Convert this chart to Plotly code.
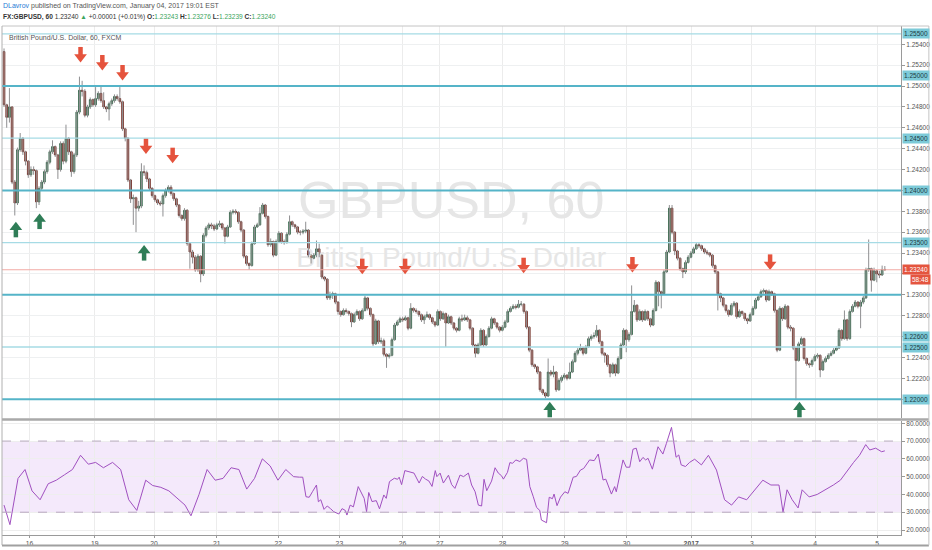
import plotly.graph_objects as go

# ---------------- data (prices in pips above 1.2000) ----------------
BASE = 1.2
PIP = 0.0001
first_open_pips = 533

close_pips = [482, 470, 480, 408, 388, 439, 450, 437, 428, 415, 420, 419, 389, 402, 408, 418, 427, 437, 442, 434,
              420, 445, 428, 450, 437, 418, 434, 475, 496, 495, 472, 480, 487, 482, 488, 493, 486, 480, 478, 483,
              486, 490, 488, 485, 459, 450, 410, 392, 393, 383, 385, 418, 417, 411, 402, 395, 391, 388, 387, 395,
              400, 403, 397, 392, 386, 376, 373, 381, 349, 341, 336, 324, 337, 320, 357, 364, 367, 366, 363, 367,
              368, 364, 356, 365, 379, 380, 379, 370, 362, 337, 330, 328, 349, 365, 367, 378, 386, 375, 348, 351,
              338, 351, 359, 351, 350, 358, 370, 367, 365, 360, 360, 361, 362, 338, 335, 338, 344, 338, 317, 315,
              297, 300, 301, 293, 284, 281, 285, 284, 282, 274, 281, 284, 277, 285, 297, 287, 281, 253, 275, 255,
              256, 243, 241, 242, 257, 271, 274, 277, 276, 278, 268, 287, 285, 284, 281, 276, 279, 281, 278, 274,
              271, 284, 277, 282, 273, 279, 273, 268, 266, 277, 276, 278, 276, 268, 252, 244, 252, 266, 252, 260,
              268, 277, 273, 269, 266, 269, 274, 284, 287, 289, 288, 291, 291, 284, 269, 247, 233, 231, 226, 209,
              206, 203, 226, 224, 226, 209, 218, 221, 223, 220, 226, 236, 244, 247, 249, 244, 250, 258, 260, 261,
              266, 255, 244, 242, 233, 225, 233, 225, 239, 252, 266, 257, 262, 284, 290, 276, 284, 276, 284, 277,
              271, 285, 312, 303, 301, 322, 341, 383, 360, 342, 335, 325, 322, 331, 336, 340, 344, 348, 347, 344,
              341, 340, 338, 328, 322, 301, 297, 290, 285, 281, 290, 292, 279, 284, 282, 277, 275, 281, 287, 295,
              298, 303, 304, 295, 303, 301, 285, 247, 287, 277, 289, 269, 268, 249, 237, 253, 258, 239, 234, 233,
              237, 241, 242, 228, 236, 239, 242, 244, 247, 249, 266, 258, 276, 258, 284, 289, 293, 289, 293, 297,
              324, 325, 314, 323, 320, 319, 324.3, 324.0]

high_pips = [536, 483, 498, 480, 410, 441, 455, 451, 438, 429, 423, 423, 420, 404, 410, 420, 429, 439, 448, 443,
             435, 447, 447, 463, 451, 438, 436, 477, 509, 505, 497, 482, 489, 488, 499, 495, 500, 494, 481, 485,
             488, 492, 492, 499, 486, 460, 451, 411, 396, 394, 390, 426, 424, 419, 412, 403, 396, 392, 390, 397,
             402, 405, 405, 398, 393, 387, 377, 383, 382, 350, 343, 338, 339, 338, 359, 366, 369, 369, 368, 369,
             371, 369, 365, 367, 381, 382, 382, 380, 371, 363, 338, 331, 351, 367, 369, 384, 388, 387, 376, 354,
             352, 353, 361, 360, 353, 360, 376, 371, 368, 366, 362, 363, 370, 363, 339, 340, 352, 349, 339, 318,
             316, 303, 303, 302, 294, 285, 287, 287, 285, 283, 283, 286, 285, 287, 299, 298, 288, 282, 277, 276,
             259, 258, 244, 244, 259, 273, 276, 279, 279, 280, 279, 292, 288, 287, 285, 282, 281, 284, 282, 279,
             275, 286, 285, 284, 283, 281, 280, 274, 269, 279, 281, 281, 280, 277, 269, 253, 254, 268, 267, 262,
             270, 279, 278, 274, 270, 271, 276, 286, 289, 291, 291, 295, 294, 292, 285, 270, 248, 234, 232, 227,
             210, 207, 239, 228, 232, 227, 220, 223, 225, 224, 235, 238, 246, 249, 253, 250, 252, 260, 262, 264,
             271, 267, 256, 245, 243, 234, 235, 234, 241, 254, 268, 267, 264, 309, 295, 291, 286, 285, 286, 285,
             278, 287, 314, 313, 304, 324, 343, 386, 386, 361, 343, 336, 326, 333, 338, 342, 346, 350, 350, 348,
             345, 343, 341, 339, 329, 323, 302, 298, 291, 286, 292, 294, 293, 286, 285, 283, 278, 283, 289, 297,
             300, 305, 306, 305, 305, 304, 302, 286, 289, 288, 291, 290, 271, 269, 250, 255, 260, 259, 240, 235,
             239, 243, 244, 243, 238, 241, 244, 246, 249, 251, 268, 267, 285, 277, 286, 291, 295, 294, 295, 299,
             326, 353, 326, 326, 324, 323, 328, 327.6]

low_pips = [480, 460, 465, 406, 376, 386, 437, 434, 424, 412, 413, 415, 383, 386, 400, 406, 416, 425, 435, 432,
            411, 418, 425, 426, 434, 413, 416, 432, 473, 490, 470, 470, 478, 480, 480, 486, 484, 478, 475, 467,
            481, 484, 486, 483, 457, 447, 408, 388, 367, 360, 380, 383, 414, 408, 400, 393, 389, 386, 385, 375,
            393, 398, 395, 390, 384, 374, 371, 371, 347, 325, 330, 322, 322, 312, 318, 355, 362, 363, 361, 362,
            365, 362, 349, 355, 364, 377, 377, 368, 360, 335, 328, 324, 327, 348, 364, 366, 377, 373, 346, 346,
            336, 337, 350, 349, 348, 349, 357, 365, 363, 358, 357, 358, 359, 336, 330, 334, 336, 336, 315, 313,
            295, 295, 296, 291, 281, 279, 280, 282, 280, 269, 273, 280, 275, 276, 284, 285, 279, 251, 252, 253,
            253, 241, 230, 239, 241, 256, 270, 273, 274, 275, 266, 267, 283, 282, 279, 274, 272, 278, 276, 272,
            269, 270, 275, 276, 250, 272, 271, 266, 264, 265, 274, 275, 274, 266, 250, 240, 243, 251, 250, 251,
            259, 267, 271, 267, 264, 265, 268, 273, 283, 286, 286, 287, 289, 282, 267, 245, 231, 229, 224, 207,
            204, 201, 202, 222, 221, 207, 208, 216, 219, 218, 219, 225, 235, 242, 246, 242, 243, 249, 256, 258,
            259, 253, 242, 235, 231, 221, 224, 222, 224, 238, 251, 245, 255, 261, 283, 274, 275, 274, 275, 275,
            269, 270, 284, 289, 287, 300, 321, 340, 358, 338, 333, 323, 316, 320, 330, 335, 339, 343, 345, 342,
            339, 338, 336, 326, 320, 285, 293, 288, 283, 279, 280, 288, 277, 278, 280, 275, 272, 274, 280, 286,
            294, 297, 301, 293, 294, 299, 283, 245, 246, 275, 276, 267, 265, 247, 199, 236, 252, 237, 232, 230,
            231, 236, 239, 221, 227, 235, 238, 241, 243, 246, 248, 256, 257, 256, 257, 283, 288, 287, 268, 291,
            296, 322, 303, 313, 312, 316, 318, 323.9]

# RSI (14, close): bar position -> value
rsi_bar = [0, 2.2, 5.2, 7.8, 10.4, 13.4, 16.4, 19.4, 22.4, 25.4, 28.4, 31.3, 34, 36.9, 40.3, 43.3, 46.3, 49.3, 52.6,
           55.2, 58.2, 61.2, 64.2, 67.2, 69.4, 72.4, 75.4, 78.4, 81.3, 84.3, 87.2, 90.1, 93, 95.9, 98.8, 101.7,
           104.6, 107.5, 109.7, 110.9, 112.1, 113.3, 114.5, 116, 116.7, 117.6, 118.8, 120, 121.2, 122.4, 124.3,
           125.5, 126.7, 127.3, 128.5, 129.7, 131.5, 132.8, 133.7, 134.6, 135.4, 136.6, 138.2, 139.4, 141, 141.9,
           143.1, 144.9, 146.1, 146.7, 147.6, 148.8, 151, 152.2, 154.1, 155.3, 156.5, 157.7, 158.9, 160.1, 160.7,
           161.9, 163.1, 165, 166.2, 167.4, 169.3, 170.6, 172.4, 173.6, 174.9, 176.1, 177.3, 178.2, 179.2, 181,
           182.3, 183.5, 184.7, 185.4, 186.9, 187.8, 188.8, 190, 191.5, 192.8, 194, 195.2, 196.5, 197.7, 198.9,
           199.5, 201.4, 202.4, 203.6, 204.2, 205.3, 206.6, 208.2, 209.4, 211.3, 212.5, 214, 215.2, 217.4, 219.1,
           220.6, 222.4, 223.4, 225.5, 226.7, 227.3, 229.8, 231, 232.3, 233.5, 234.7, 236, 237.2, 238.2, 239.1,
           240.7, 242.8, 244.6, 245.9, 247.8, 249.5, 250.5, 251.4, 253, 254.5, 256.4, 258.9, 261.5, 264.5, 267.5,
           270.1, 272.7, 275.7, 278.7, 281.7, 284.7, 287.7, 289.2, 290.7, 292.6, 294.8, 296.3, 298.9, 301.9,
           304.9, 307.9, 310.5, 313.1, 315.4, 317.6, 319.9, 321.4, 323.6, 325.8, 327]
rsi_val = [34, 23, 49, 54, 42, 37, 46, 48, 51, 54, 62, 57, 58, 55, 58, 54, 37, 31, 48, 45, 44, 42, 38, 34, 28, 40,
           54, 48, 49, 55, 54, 43, 49, 60, 56, 48, 54, 50, 49.7, 49.7, 38.7, 38.4, 41.5, 45.3, 35.9, 37, 31.6, 33.5,
           32, 30.3, 29, 32, 31, 28.4, 34, 33, 44.4, 40.5, 37.8, 30.3, 41.1, 36, 36.5, 31.9, 39.7, 37.8, 47.2, 49.1,
           48.5, 49.7, 45.5, 53.4, 52.7, 52, 46.4, 50.1, 48.6, 47.6, 44.5, 53.4, 50, 52, 46.4, 50.8, 45.5, 43.4,
           50.9, 50, 52, 45.3, 41.5, 34, 33.5, 48.5, 42.1, 47.5, 55, 52, 50.5, 48.6, 52.4, 57.9, 57.5, 59.4, 58.5,
           60.3, 59.7, 44.4, 38.7, 32.7, 31, 25.6, 24.1, 38.4, 37.6, 40.2, 33.7, 38.5, 41.5, 40.6, 49.7, 50.1, 53.7,
           54.6, 59.4, 59, 62.7, 48.1, 48.6, 40.2, 44.4, 41.5, 59.4, 55.3, 55.3, 65.4, 66, 58.4, 60.8, 59.4, 60.3,
           54.2, 66.8, 62.7, 68.6, 77.7, 60.9, 62.2, 56.6, 55.7, 58, 59.8, 56.6, 62, 53.7, 37, 34, 38.6, 37, 42.6,
           48, 45.3, 45.3, 30, 42.6, 37, 32.4, 42.6, 38.6, 40, 42.6, 45.3, 48, 53.7, 58, 62, 68, 65, 66, 64, 64.5]

# signal arrows: (bar position, price at arrow centre)
sell_bar = [28.4, 36.5, 44, 52.7, 62.6, 133, 148.9, 192.9, 233.3, 284.4]
sell_price = [1.25304, 1.25227, 1.25131, 1.24428, 1.24339, 1.23276, 1.23276, 1.23285, 1.23292, 1.23317]
buy_bar = [4.4, 13.2, 52, 202.6, 295.3]
buy_price = [1.23621, 1.23700, 1.23398, 1.21897, 1.21897]

# x-axis day labels (bar position of each day start)
day_pos = [9.5, 33.7, 55.7, 79, 101.8, 124.5, 147.9, 161.8, 185.1, 208.2, 231.1, 255.1, 277.6, 301.1, 324.1]
day_lbl = ["16", "19", "20", "21", "22", "23", "26", "27", "28", "29", "30", "<b>2017</b>", "3", "4", "5"]

# horizontal levels
strong_levels = [1.2500, 1.2400, 1.2300, 1.2200]
weak_levels = [1.2550, 1.2450, 1.2350, 1.2250]
level_labels = [(1.2550, "1.25500"), (1.2510, "1.25000"), (1.2450, "1.24500"), (1.2400, "1.24000"),
                (1.2350, "1.23500"), (1.2260, "1.22600"), (1.2250, "1.22500"), (1.2200, "1.22000")]
last_price = 1.2324

price_ticks = [round(1.218 + 0.002 * k, 3) for k in range(19)]
hidden_ticks = [1.240, 1.232, 1.226, 1.220]   # covered by the coloured level labels
rsi_ticks = [20, 30, 40, 50, 60, 70, 80]

# ---------------- derived ----------------
closes = [BASE + p * PIP for p in close_pips]
highs = [BASE + p * PIP for p in high_pips]
lows = [BASE + p * PIP for p in low_pips]
opens = [BASE + first_open_pips * PIP] + closes[:-1]
bars = list(range(len(closes)))
body_hi = [max(o, c) for o, c in zip(opens, closes)]
body_lo = [min(o, c) for o, c in zip(opens, closes)]

wx, wy = [], []
for b, h, l in zip(bars, highs, lows):
    wx += [b, b, None]
    wy += [l, h, None]

FONT = "Liberation Sans, Arial, sans-serif"
fig = go.Figure()

# watermark (behind)
fig.add_trace(go.Scatter(x=[166], y=[1.2386], mode="text", text=["GBPUSD, 60"],
                         textfont=dict(family=FONT, size=52, color="#e6e6e6"),
                         hoverinfo="skip", showlegend=False))
fig.add_trace(go.Scatter(x=[166], y=[1.2333], mode="text", text=["British Pound/U.S. Dollar"],
                         textfont=dict(family=FONT, size=28, color="#e6e6e6"),
                         hoverinfo="skip", showlegend=False))

# wicks
fig.add_trace(go.Scatter(x=wx, y=wy, mode="lines", line=dict(color="#8f8f91", width=1),
                         hoverinfo="skip", showlegend=False))
# bodies
fig.add_trace(go.Candlestick(x=bars, open=opens, high=body_hi, low=body_lo, close=closes,
                             increasing=dict(fillcolor="#6ba583", line=dict(color="#225437", width=0.8)),
                             decreasing=dict(fillcolor="#d75442", line=dict(color="#5b1a13", width=0.8)),
                             whiskerwidth=0, showlegend=False))

# arrows
RED = "#e5533d"
GREEN = "#2f7d57"
ST = 0.00030
HD = 0.00026
fig.add_trace(go.Scatter(x=sell_bar, y=[p + ST for p in sell_price], mode="markers",
                         marker=dict(symbol="line-ns", size=6, line=dict(color=RED, width=4.5)),
                         hoverinfo="skip", showlegend=False))
fig.add_trace(go.Scatter(x=sell_bar, y=[p - HD for p in sell_price], mode="markers",
                         marker=dict(symbol="triangle-down", size=11, color=RED, line=dict(width=0)),
                         hoverinfo="skip", showlegend=False))
fig.add_trace(go.Scatter(x=buy_bar, y=[p - ST for p in buy_price], mode="markers",
                         marker=dict(symbol="line-ns", size=6, line=dict(color=GREEN, width=4.5)),
                         hoverinfo="skip", showlegend=False))
fig.add_trace(go.Scatter(x=buy_bar, y=[p + HD for p in buy_price], mode="markers",
                         marker=dict(symbol="triangle-up", size=11, color=GREEN, line=dict(width=0)),
                         hoverinfo="skip", showlegend=False))

# RSI
fig.add_trace(go.Scatter(x=rsi_bar, y=rsi_val, mode="lines", line=dict(color="#a050c0", width=1),
                         xaxis="x", yaxis="y2", hoverinfo="skip", showlegend=False))

shapes = []
for lv in strong_levels:
    shapes.append(dict(type="line", xref="paper", x0=0, x1=1, yref="y", y0=lv, y1=lv,
                       line=dict(color="#55b4c8", width=2)))
for lv in weak_levels:
    shapes.append(dict(type="line", xref="paper", x0=0, x1=1, yref="y", y0=lv, y1=lv,
                       line=dict(color="#a6dbe5", width=1.3)))
shapes.append(dict(type="line", xref="paper", x0=0, x1=1, yref="y", y0=last_price, y1=last_price,
                   line=dict(color="#f2aaa4", width=1)))
# RSI band
shapes.append(dict(type="rect", xref="paper", x0=0, x1=1, yref="y2", y0=30, y1=70,
                   fillcolor="#f4e9fb", line=dict(width=0), layer="below"))
for lv in (30, 70):
    shapes.append(dict(type="line", xref="paper", x0=0, x1=1, yref="y2", y0=lv, y1=lv,
                       line=dict(color="#b8a8c0", width=1, dash="dash")))
# frame / separators
shapes.append(dict(type="line", xref="paper", x0=0, x1=1.031, yref="paper", y0=0.2269, y1=0.2269,
                   line=dict(color="#a9a9a9", width=2.5)))
shapes.append(dict(type="line", xref="paper", x0=0, x1=1.031, yref="paper", y0=1.0, y1=1.0,
                   line=dict(color="#c4c4c4", width=1)))
shapes.append(dict(type="line", xref="paper", x0=0, x1=0, yref="paper", y0=-0.02, y1=1.0,
                   line=dict(color="#b0b0b0", width=1)))
shapes.append(dict(type="line", xref="paper", x0=0, x1=1.031, yref="paper", y0=-0.0205, y1=-0.0205,
                   line=dict(color="#a0a0a0", width=2)))
shapes.append(dict(type="line", xref="paper", x0=1.031, x1=1.031, yref="paper", y0=-0.02, y1=1.0,
                   line=dict(color="#c4c4c4", width=1)))

ann = []
ann.append(dict(xref="paper", yref="paper", x=-0.001, y=1.039, xanchor="left", yanchor="middle", showarrow=False,
                text="<span style='color:#2a7bd6'>DLavrov</span> published on TradingView.com, January 04, 2017 19:01 EST",
                font=dict(family=FONT, size=7, color="#555555")))
ann.append(dict(xref="paper", yref="paper", x=-0.001, y=1.0175, xanchor="left", yanchor="middle", showarrow=False,
                text="<b>FX:GBPUSD, 60</b> 1.23240 <span style='color:#3ba55d'>▲</span> +0.00001 (+0.01%) "
                     "<b>O:</b><span style='color:#3ba55d'>1.23243</span> <b>H:</b><span style='color:#3ba55d'>1.23276</span> "
                     "<b>L:</b><span style='color:#3ba55d'>1.23239</span> <b>C:</b><span style='color:#3ba55d'>1.23240</span>",
                font=dict(family=FONT, size=6.6, color="#333333")))
ann.append(dict(xref="paper", yref="paper", x=0.006, y=0.978, xanchor="left", yanchor="middle", showarrow=False,
                text="British Pound/U.S. Dollar, 60, FXCM", font=dict(family=FONT, size=7, color="#555555")))
for val, txt in level_labels:
    ann.append(dict(xref="paper", yref="y", x=1.0, y=val, xanchor="left", yanchor="middle", showarrow=False,
                    text=txt, bgcolor="#7ccad8", borderpad=1, xshift=1,
                    font=dict(family=FONT, size=6.5, color="#1d3a42")))
ann.append(dict(xref="paper", yref="y", x=1.0, y=last_price, xanchor="left", yanchor="middle", showarrow=False,
                text="1.23240", bgcolor="#e4553f", borderpad=1, xshift=1,
                font=dict(family=FONT, size=6.5, color="white")))
ann.append(dict(xref="paper", yref="y", x=1.0, y=last_price, xanchor="left", yanchor="middle", showarrow=False,
                text="58:48", bgcolor="#e4553f", borderpad=1, xshift=9, yshift=-10,
                font=dict(family=FONT, size=6.5, color="white")))

AX_FONT = dict(family=FONT, size=6.5, color="#555555")
fig.update_layout(
    width=932, height=550,
    margin=dict(l=2, r=29, t=26, b=15),
    paper_bgcolor="white", plot_bgcolor="white",
    showlegend=False, boxgap=0.1,
    shapes=shapes, annotations=ann,
    xaxis=dict(domain=[0, 1], range=[-0.75, 333], anchor="y2", tickvals=day_pos, ticktext=day_lbl,
               showgrid=True, gridcolor="#ececec", gridwidth=1, ticks="outside", ticklen=2, tickcolor="#999",
               tickfont=dict(family=FONT, size=6.8, color="#555555"), showline=True, linecolor="#9a9a9a",
               zeroline=False, rangeslider=dict(visible=False)),
    yaxis=dict(domain=[0.2299, 1], range=[1.21820, 1.25575], side="right", anchor="x",
               tickvals=price_ticks,
               ticktext=["" if v in hidden_ticks else "%.5f" % v for v in price_ticks],
               showgrid=True, gridcolor="#eef0f1", ticks="outside", ticklen=3, tickcolor="#999",
               tickfont=AX_FONT, showline=True, linecolor="#9a9a9a", zeroline=False),
    yaxis2=dict(domain=[0, 0.224], range=[17.19, 81.29], side="right", anchor="x",
                tickvals=rsi_ticks, ticktext=["%.4f" % v for v in rsi_ticks],
                showgrid=True, gridcolor="#eeeeee", ticks="outside", ticklen=3, tickcolor="#999",
                tickfont=AX_FONT, showline=True, linecolor="#9a9a9a", zeroline=False),
)

fig.write_html("out.html", config={"displayModeBar": False},
               post_script="document.body.style.margin='0px';document.body.style.overflow='hidden';")
